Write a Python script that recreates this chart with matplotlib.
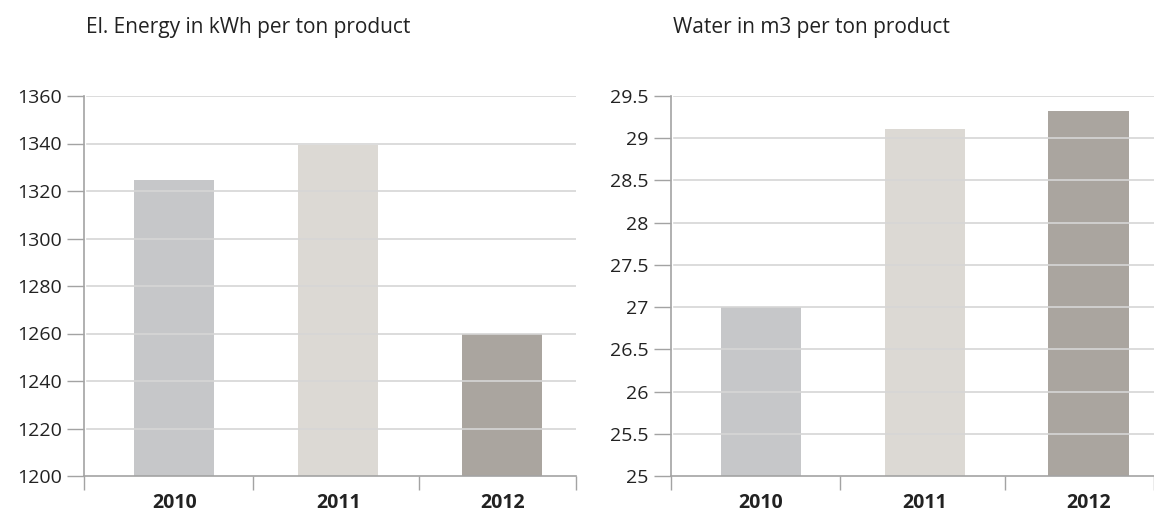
import numpy as np
import matplotlib
matplotlib.use("Agg")
import matplotlib.pyplot as plt

plt.rcParams['font.family'] = ['Open Sans', 'DejaVu Sans']

years = ["2010", "2011", "2012"]
energy = [1324.5, 1339.2, 1259.8]
water = [27.0, 29.11, 29.32]
energy_ticks = [1200, 1220, 1240, 1260, 1280, 1300, 1320, 1340, 1360]
water_ticks = [25, 25.5, 26, 26.5, 27, 27.5, 28, 28.5, 29, 29.5]
water_labels = ["25", "25.5", "26", "26.5", "27", "27.5", "28", "28.5", "29", "29.5"]
titles = ["El. Energy in kWh per ton product", "Water in m3 per ton product"]

colors = ["#c6c7c9", "#dcd9d4", "#aaa59f"]
grid_c = "#d6d6d6"
axis_c = "#a3a3a3"
text_c = "#222222"

W, H = 1154, 514
fig = plt.figure(figsize=(W / 100, H / 100), dpi=100)

panels = [
    (fig.add_axes([84 / W, 38 / H, 492 / W, 380 / H]), energy, energy_ticks,
     [str(t) for t in energy_ticks], titles[0], (-0.55, 2.45)),
    (fig.add_axes([671 / W, 38 / H, 483 / W, 380 / H]), water, water_ticks,
     water_labels, titles[1], (-0.55, 2.40)),
]

for ax, vals, ticks, labels, title, xl in panels:
    x = np.arange(len(years))
    ax.bar(x, vals, width=0.49, color=colors, zorder=1)
    ax.set_xlim(*xl)
    ax.set_ylim(ticks[0], ticks[-1])
    for t in ticks[1:]:
        ax.axhline(t, xmin=0.007, xmax=1, color=grid_c, lw=1.2, zorder=2)
    ax.set_yticks(ticks)
    ax.set_yticklabels(labels)
    ax.tick_params(axis="y", length=12, width=1, color=axis_c, pad=4,
                   labelsize=14, labelcolor=text_c)
    ax.set_xticks([xl[0], 0.48, 1.49, xl[1]])
    ax.set_xticklabels([])
    ax.tick_params(axis="x", length=10, width=1, color=axis_c)
    for i, y in enumerate(years):
        ax.text(i, -0.072, y, transform=ax.get_xaxis_transform(), ha="center",
                va="center", fontsize=14, fontweight="bold", color=text_c)
    for s in ["top", "right"]:
        ax.spines[s].set_visible(False)
    for s in ["left", "bottom"]:
        ax.spines[s].set_color(axis_c)
        ax.spines[s].set_linewidth(1.2)
    ax.text(0.005, 1.18, title, transform=ax.transAxes, ha="left",
            va="center", fontsize=15, color=text_c)

fig.savefig("out.png", dpi=100)
